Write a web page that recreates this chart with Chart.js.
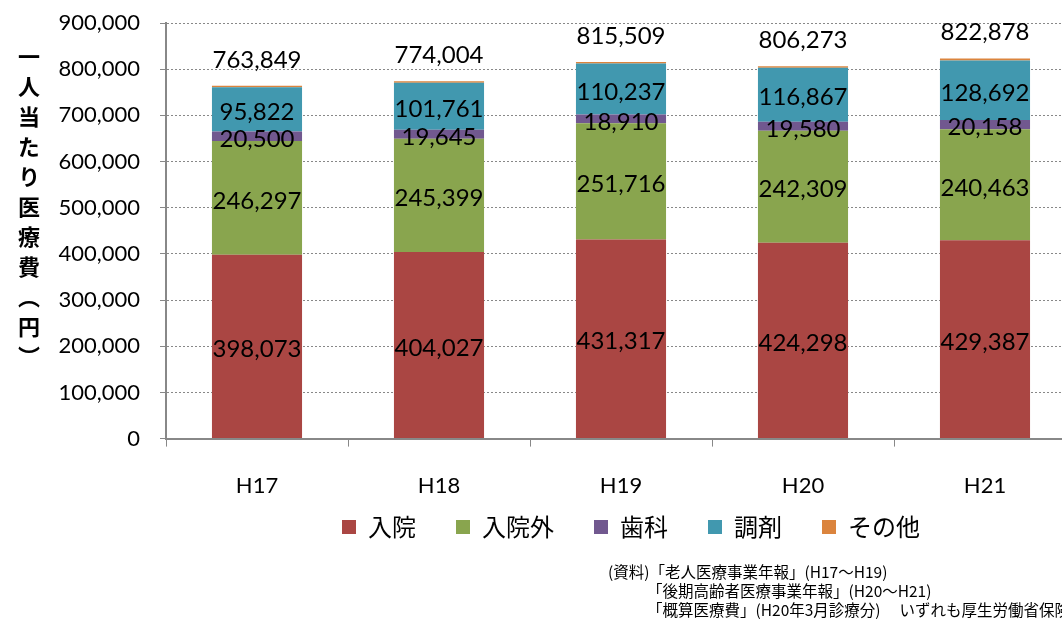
<!DOCTYPE html>
<html>
<head>
<meta charset="utf-8">
<script src="https://cdn.jsdelivr.net/npm/chart.js@4"></script>
<style>
  html, body { margin: 0; padding: 0; background: #fff; overflow: hidden; }
  #wrap { position: relative; width: 1062px; height: 620px; overflow: hidden; }
  #chart { position: absolute; left: 0; top: 0; }
  #ytitle {
    position: absolute; left: 13px; top: 46px;
    writing-mode: vertical-rl; text-orientation: upright;
    font: bold 22px "Noto Sans CJK JP", sans-serif; letter-spacing: 8px; color: #000;
  }
  #notes {
    position: absolute; left: 608px; top: 562px; white-space: nowrap;
    font: 15.5px "Noto Sans CJK JP", sans-serif; line-height: 19px; color: #000;
  }
  #notes .ind { padding-left: 39px; }
</style>
</head>
<body>
<div id="wrap">
  <canvas id="chart" width="1080" height="620"></canvas>
  <div id="ytitle">一人当たり医療費（円）</div>
  <div id="notes">
    <div>(資料)「老人医療事業年報」(H17～H19)</div>
    <div class="ind">「後期高齢者医療事業年報」(H20～H21)</div>
    <div class="ind">「概算医療費」(H20年3月診療分)　 いずれも厚生労働省保険局</div>
  </div>
</div>
<script>
// data
const years = ["H17", "H18", "H19", "H20", "H21"];
const inpatient = [398073, 404027, 431317, 424298, 429387];
const outpatient = [246297, 245399, 251716, 242309, 240463];
const dental = [20500, 19645, 18910, 19580, 20158];
const pharmacy = [95822, 101761, 110237, 116867, 128692];
const other = [3157, 3172, 3329, 3219, 4178];
const totals = [763849, 774004, 815509, 806273, 822878];
const yTicks = [0, 100000, 200000, 300000, 400000, 500000, 600000, 700000, 800000, 900000];

const fmt = v => v.toLocaleString('en-US');

// numbers inside the bars and totals on top
const valueLabels = {
    id: 'valueLabels',
    afterDatasetsDraw(chart) {
        const ctx = chart.ctx;
        ctx.save();
        ctx.font = '24px Lato';
        ctx.fillStyle = '#000';
        ctx.textAlign = 'center';
        ctx.textBaseline = 'middle';
        for (let i = 0; i < 4; i++) {
            const ds = chart.data.datasets[i];
            chart.getDatasetMeta(i).data.forEach((bar, j) => {
                ctx.fillText(fmt(ds.data[j]), bar.x, (bar.y + bar.base) / 2 + 3);
            });
        }
        chart.getDatasetMeta(4).data.forEach((bar, j) => {
            ctx.fillText(fmt(totals[j]), bar.x, bar.y - 26);
        });
        ctx.restore();
    }
};

// legend sits right of centre and a bit higher in the original
const legendShift = {
    id: 'legendShift',
    afterLayout(chart) {
        const lg = chart.legend;
        lg.left += 93;
        lg.right += 93;
        lg.top -= 50;
        lg.bottom -= 50;
    }
};

new Chart(document.getElementById("chart"), {
    type: "bar",
    data: {
        labels: years,
        datasets: [
            { label: "入院", data: inpatient, backgroundColor: "#AA4643" },
            { label: "入院外", data: outpatient, backgroundColor: "#89A54E" },
            { label: "歯科", data: dental, backgroundColor: "#71588F" },
            { label: "調剤", data: pharmacy, backgroundColor: "#4198AF" },
            { label: "その他", data: other, backgroundColor: "#DB843D" }
        ]
    },
    options: {
        responsive: false,
        animation: false,
        layout: { padding: { top: 23, left: 0, right: 4, bottom: 21 } },
        datasets: { bar: { categoryPercentage: 1, barPercentage: 0.495 } },
        plugins: {
            tooltip: { enabled: false },
            legend: {
                position: "bottom",
                labels: {
                    boxWidth: 14, boxHeight: 14, padding: 40, color: "#000",
                    font: { family: "Noto Sans CJK JP", size: 24 }
                }
            }
        },
        scales: {
            x: {
                stacked: true,
                grid: { drawOnChartArea: false, color: "#888", tickLength: 8, offset: true },
                border: { color: "#888", width: 2 },
                ticks: { color: "#000", padding: 26, font: { family: "Lato", size: 22 } }
            },
            y: {
                stacked: true,
                min: 0, max: 900000,
                afterBuildTicks: s => { s.ticks = yTicks.map(v => ({ value: v })); },
                grid: { color: "#888", tickColor: "#888", tickLength: 6, tickBorderDash: [] },
                border: { color: "#888", width: 2, dash: [2, 2] },
                ticks: { color: "#000", padding: 20, font: { family: "Lato", size: 22 }, callback: v => fmt(v) },
                afterFit: s => { s.width = 166; s.paddingTop = 0; s.paddingBottom = 0; }
            }
        }
    },
    plugins: [valueLabels, legendShift]
});
</script>
</body>
</html>
